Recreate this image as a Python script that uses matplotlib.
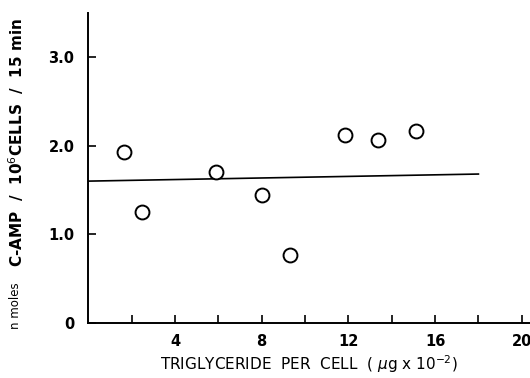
import numpy as np
import matplotlib
matplotlib.use("Agg")
import matplotlib.pyplot as plt

# data
triglyceride = [1.65, 2.5, 5.9, 8.0, 9.3, 11.85, 13.35, 15.1]
camp = [1.93, 1.25, 1.70, 1.44, 0.77, 2.12, 2.07, 2.17]
line_x = [0, 18]
line_y = [1.60, 1.68]

xticks_minor = [2, 4, 6, 8, 10, 12, 14, 16, 18, 20]
xticks_lab = [4, 8, 12, 16, 20]
yticks = [0, 1.0, 2.0, 3.0]
ytick_labels = ["0", "1.0", "2.0", "3.0"]

plt.rcParams['font.family'] = ['DejaVu Sans']

fig = plt.figure(figsize=(5.3, 3.78), dpi=100)
ax = fig.add_axes([88.3 / 530, 55.3 / 378, 1 - 88.3 / 530, 309.7 / 378])

ax.plot(line_x, line_y, color='black', linewidth=1.2)
ax.plot(triglyceride, camp, linestyle='none', marker='o', markersize=10,
        markerfacecolor='white', markeredgecolor='black', markeredgewidth=1.4)

ax.set_xlim(0, 20.38)
ax.set_ylim(0, 3.5)

ax.spines['top'].set_visible(False)
ax.spines['right'].set_visible(False)
ax.spines['left'].set_linewidth(1.4)
ax.spines['bottom'].set_linewidth(1.4)

ax.set_xticks(xticks_minor, minor=True)
ax.set_xticks(xticks_lab)
ax.set_xticklabels([str(v) for v in xticks_lab], fontsize=10.5, fontweight='bold')
ax.tick_params(axis='x', which='both', direction='in', length=6, width=1.2, pad=8)
ax.set_yticks(yticks)
ax.set_yticklabels(ytick_labels, fontsize=10.5, fontweight='bold')
ax.tick_params(axis='y', direction='in', length=6, width=1.2, pad=10)

ax.set_xlabel("TRIGLYCERIDE  PER  CELL  ( $\\mu$g x 10$^{-2}$)", fontsize=11, labelpad=3)

fig.text(0.03, 1 - 142 / 378,
         "C-AMP  /  10$^{6}$CELLS  /  15 min", rotation=90, fontsize=11, fontweight='bold',
         ha='center', va='center')
fig.text(0.03, 1 - 306 / 378, "n moles", rotation=90, fontsize=8.5,
         ha='center', va='center')

fig.savefig("out.png", dpi=100)
